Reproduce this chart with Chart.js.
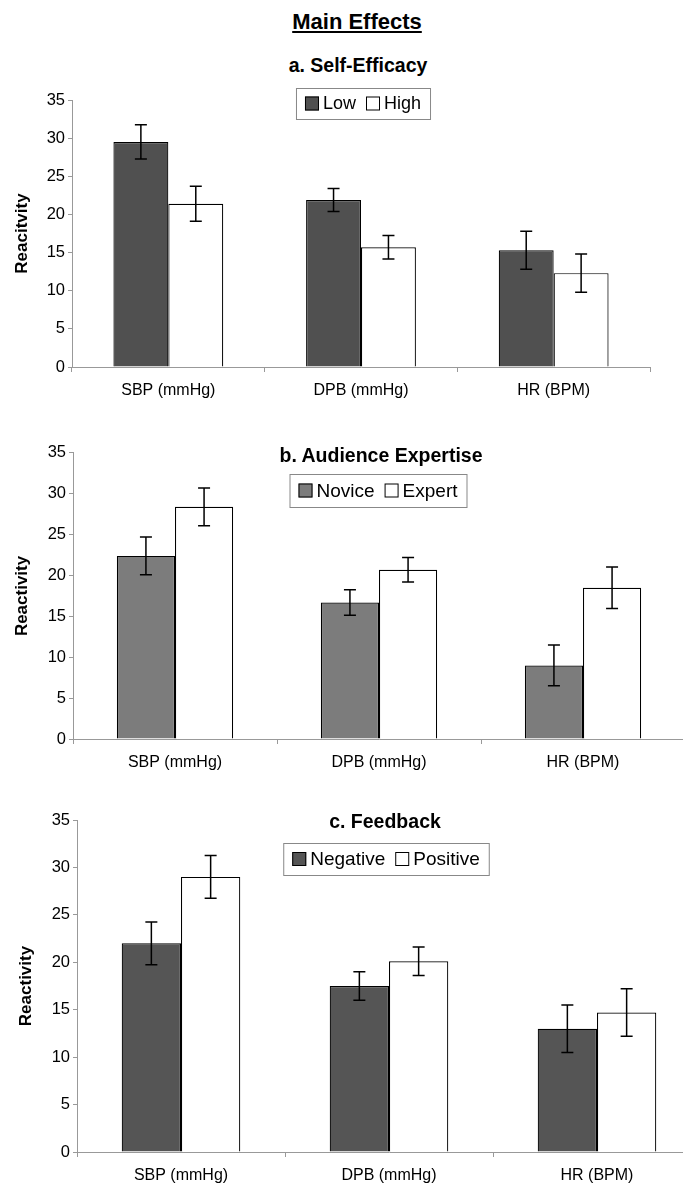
<!DOCTYPE html>
<html>
<head>
<meta charset="utf-8">
<script src="https://cdn.jsdelivr.net/npm/chart.js@4.4.1/dist/chart.umd.min.js"></script>
<style>
  body { margin: 0; width: 683px; height: 1186px; overflow: hidden; background: #fff; position: relative;
         font-family: 'Liberation Sans', Arial, sans-serif; }
  canvas { position: absolute; left: 0; }
  .t { position: absolute; transform: translate(-50%, -50%); font-weight: bold; white-space: nowrap; color: #000; }
</style>
</head>
<body>
<canvas id="chartA" width="683" height="340" style="top:80px"></canvas>
<canvas id="chartB" width="700" height="340" style="top:440px"></canvas>
<canvas id="chartC" width="720" height="386" style="top:800px"></canvas>

<div class="t" style="left:357px;top:22px;font-size:22px;text-decoration:underline">Main Effects</div>
<div class="t" style="left:358px;top:65px;font-size:19.5px">a. Self-Efficacy</div>
<div class="t" style="left:381px;top:455px;font-size:19.5px">b. Audience Expertise</div>
<div class="t" style="left:385px;top:821px;font-size:19.5px">c. Feedback</div>

<script>
// Données
const categories = ['SBP (mmHg)', 'DPB (mmHg)', 'HR (BPM)'];
const yMin = 0, yMax = 35, yStep = 5;

// a. Self-Efficacy
const lowVals = [29.5, 21.9, 15.3];
const lowErr = [2.25, 1.5, 2.5];
const highVals = [21.4, 15.7, 12.3];
const highErr = [2.3, 1.55, 2.5];

// b. Audience Expertise
const noviceVals = [22.4, 16.7, 9.0];
const noviceErr = [2.3, 1.55, 2.5];
const expertVals = [28.4, 20.7, 18.5];
const expertErr = [2.3, 1.5, 2.55];

// c. Feedback
const negativeVals = [22.0, 17.5, 13.0];
const negativeErr = [2.25, 1.5, 2.5];
const positiveVals = [29.0, 20.1, 14.7];
const positiveErr = [2.25, 1.5, 2.5];

const FONT = "'Liberation Sans', Arial, sans-serif";

// barres d'erreur dessinées au-dessus des barres
const errorBars = {
  id: 'errorBars',
  afterDatasetsDraw(chart) {
    const ctx = chart.ctx;
    const y = chart.scales.y;
    chart.data.datasets.forEach((ds, i) => {
      const meta = chart.getDatasetMeta(i);
      meta.data.forEach((bar, j) => {
        const v = ds.data[j], e = ds.errors[j];
        const top = y.getPixelForValue(v + e);
        const bot = y.getPixelForValue(v - e);
        ctx.save();
        ctx.strokeStyle = '#000';
        ctx.lineWidth = 1.5;
        ctx.beginPath();
        ctx.moveTo(bar.x, top); ctx.lineTo(bar.x, bot);
        ctx.moveTo(bar.x - 6, top); ctx.lineTo(bar.x + 6, top);
        ctx.moveTo(bar.x - 6, bot); ctx.lineTo(bar.x + 6, bot);
        ctx.stroke();
        ctx.restore();
      });
    });
  }
};

// légende encadrée, style Excel
const boxLegend = {
  id: 'boxLegend',
  afterDraw(chart, args, opts) {
    const ctx = chart.ctx;
    const sw = 14, gap = 4, itemGap = 10, pad = 9;
    ctx.save();
    ctx.font = opts.fontSize + 'px ' + FONT;
    const items = chart.data.datasets.map(ds => ({ ds, w: ctx.measureText(ds.label).width }));
    let content = 0;
    items.forEach((it, k) => { content += sw + gap + it.w + (k ? itemGap : 0); });
    const boxW = content + pad * 2;
    const left = opts.cx - boxW / 2;
    ctx.fillStyle = '#fff';
    ctx.fillRect(left, opts.top, boxW, opts.height);
    ctx.strokeStyle = '#888';
    ctx.lineWidth = 1;
    ctx.strokeRect(left + 0.5, opts.top + 0.5, boxW, opts.height);
    let x = left + pad;
    const cy = opts.top + opts.height / 2;
    items.forEach((it, k) => {
      if (k) x += itemGap;
      ctx.fillStyle = it.ds.backgroundColor;
      ctx.fillRect(x, cy - sw / 2, sw, sw);
      ctx.strokeStyle = '#000';
      ctx.strokeRect(x + 0.5, cy - sw / 2 + 0.5, sw - 1, sw - 1);
      x += sw + gap;
      ctx.fillStyle = '#000';
      ctx.textBaseline = 'middle';
      ctx.fillText(it.ds.label, x, cy + 1);
      x += it.w;
    });
    ctx.restore();
  }
};

function makeChart(id, cfg) {
  const ds = (label, data, errors, color) => ({
    label, data, errors,
    backgroundColor: color,
    borderColor: '#000',
    borderWidth: 1.2,
    categoryPercentage: 0.57,
    barPercentage: 1.0
  });
  return new Chart(document.getElementById(id), {
    type: 'bar',
    data: {
      labels: categories,
      datasets: [
        ds(cfg.names[0], cfg.series[0], cfg.errors[0], cfg.color),
        ds(cfg.names[1], cfg.series[1], cfg.errors[1], '#ffffff')
      ]
    },
    options: {
      responsive: false,
      animation: false,
      layout: { padding: { top: cfg.padTop, right: cfg.padRight, left: 0, bottom: 0 } },
      plugins: {
        legend: { display: false },
        tooltip: { enabled: false },
        boxLegend: cfg.legend
      },
      scales: {
        x: {
          grid: { display: true, offset: true, drawOnChartArea: false, tickLength: 5, color: '#999' },
          border: { color: '#999', width: 1 },
          ticks: { color: '#000', font: { family: FONT, size: 16 }, padding: 9, maxRotation: 0 },
          afterFit: s => { s.height = cfg.xHeight; }
        },
        y: {
          min: yMin, max: yMax,
          grid: { display: true, drawOnChartArea: false, tickLength: 4, color: '#999' },
          border: { color: '#999', width: 1 },
          ticks: { stepSize: yStep, color: '#000', font: { family: FONT, size: 16.5 }, padding: 3 },
          title: {
            display: true, text: cfg.yTitle, color: '#000',
            font: { family: FONT, size: 17, weight: 'bold' },
            padding: { top: cfg.titlePad, bottom: 0 }
          },
          afterFit: s => { s.width = cfg.yWidth; }
        }
      }
    },
    plugins: [errorBars, boxLegend]
  });
}

makeChart('chartA', {
  names: ['Low', 'High'], series: [lowVals, highVals], errors: [lowErr, highErr],
  color: '#505050', yTitle: 'Reacitvity',
  padTop: 20, padRight: 33, xHeight: 53, yWidth: 72, titlePad: 12,
  legend: { cx: 363, top: 8, height: 31, fontSize: 18 }
});

makeChart('chartB', {
  names: ['Novice', 'Expert'], series: [noviceVals, expertVals], errors: [noviceErr, expertErr],
  color: '#7c7c7c', yTitle: 'Reactivity',
  padTop: 10, padRight: 15, xHeight: 41, yWidth: 73, titlePad: 12,
  legend: { cx: 378, top: 34, height: 33, fontSize: 19 }
});

makeChart('chartC', {
  names: ['Negative', 'Positive'], series: [negativeVals, positiveVals], errors: [negativeErr, positiveErr],
  color: '#555555', yTitle: 'Reactivity',
  padTop: 20, padRight: 19, xHeight: 34, yWidth: 77, titlePad: 16,
  legend: { cx: 386, top: 43, height: 32, fontSize: 19 }
});
</script>
</body>
</html>
